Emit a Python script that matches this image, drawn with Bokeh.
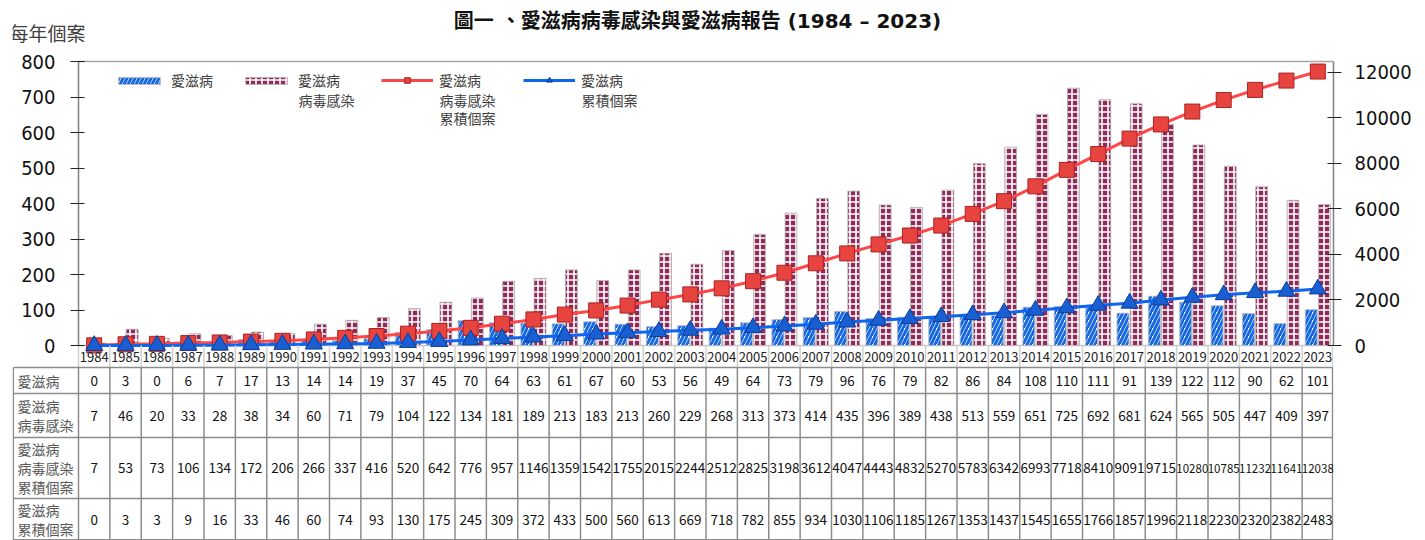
from bokeh.plotting import figure
from bokeh.models import (Range1d, LinearAxis, ColumnDataSource, Legend, LegendItem,
                          FixedTicker)
from bokeh.embed import file_html
from bokeh.resources import INLINE
from bokeh.core.properties import value
from bokeh.transform import dodge

# ---------------- data ----------------
years = [1984, 1985, 1986, 1987, 1988, 1989, 1990, 1991, 1992, 1993,
         1994, 1995, 1996, 1997, 1998, 1999, 2000, 2001, 2002, 2003,
         2004, 2005, 2006, 2007, 2008, 2009, 2010, 2011, 2012, 2013,
         2014, 2015, 2016, 2017, 2018, 2019, 2020, 2021, 2022, 2023]
aids = [0, 3, 0, 6, 7, 17, 13, 14, 14, 19,
        37, 45, 70, 64, 63, 61, 67, 60, 53, 56,
        49, 64, 73, 79, 96, 76, 79, 82, 86, 84,
        108, 110, 111, 91, 139, 122, 112, 90, 62, 101]
hiv = [7, 46, 20, 33, 28, 38, 34, 60, 71, 79,
       104, 122, 134, 181, 189, 213, 183, 213, 260, 229,
       268, 313, 373, 414, 435, 396, 389, 438, 513, 559,
       651, 725, 692, 681, 624, 565, 505, 447, 409, 397]
hiv_cum = [7, 53, 73, 106, 134, 172, 206, 266, 337, 416,
           520, 642, 776, 957, 1146, 1359, 1542, 1755, 2015, 2244,
           2512, 2825, 3198, 3612, 4047, 4443, 4832, 5270, 5783, 6342,
           6993, 7718, 8410, 9091, 9715, 10280, 10785, 11232, 11641, 12038]
aids_cum = [0, 3, 3, 9, 16, 33, 46, 60, 74, 93,
            130, 175, 245, 309, 372, 433, 500, 560, 613, 669,
            718, 782, 855, 934, 1030, 1106, 1185, 1267, 1353, 1437,
            1545, 1655, 1766, 1857, 1996, 2118, 2230, 2320, 2382, 2483]
left_ticks = [0, 100, 200, 300, 400, 500, 600, 700, 800]
right_ticks = [0, 2000, 4000, 6000, 8000, 10000, 12000]
left_max = 800
right_max = 12480
series_names = ["愛滋病", "愛滋病\n病毒感染", "愛滋病\n病毒感染\n累積個案", "愛滋病\n累積個案"]
title_text = "圖一 、愛滋病病毒感染與愛滋病報告 (1984 – 2023)"
left_title = "每年個案"
right_title = "累積個案"

# ---------------- layout constants (page pixels) ----------------
N = len(years)
W, H = 1425, 540
FRAME_L = 78.0            # chart area left
FRAME_R = 1333.0          # chart area right
TOP, BASE = 61.0, 345.0   # chart area top / zero line
TABLE_L = 12.0
ROWS = [345, 367, 393, 437, 498, 540]
PXU = (FRAME_R - FRAME_L) / N
CJK_S = "Noto Sans CJK TC"
CJK = value(CJK_S)
NUMF = value("Noto Sans CJK TC")
TICKF = "DejaVu Sans Condensed"


def fx(px):
    return (px - FRAME_L) / PXU - 0.5


def fy(py):
    return (BASE - py) * left_max / (BASE - TOP)


def fsize(v):
    return "11.5px" if len(str(v)) >= 5 else "13.5px"


scale_r = right_max / left_max

src = ColumnDataSource(dict(x=list(range(N)), aids=aids, hiv=hiv, hiv_cum=hiv_cum,
                            aids_cum=aids_cum, year=[str(y) for y in years],
                            t_aids=[str(v) for v in aids], t_hiv=[str(v) for v in hiv],
                            t_hcum=[str(v) for v in hiv_cum],
                            t_acum=[str(v) for v in aids_cum],
                            s_aids=[fsize(v) for v in aids], s_hiv=[fsize(v) for v in hiv],
                            s_hcum=[fsize(v) for v in hiv_cum],
                            s_acum=[fsize(v) for v in aids_cum]))

p = figure(frame_width=int(FRAME_R - TABLE_L), frame_height=H,
           x_range=Range1d(fx(TABLE_L), N - 0.5), y_range=Range1d(fy(H), fy(0)),
           x_axis_location=None, toolbar_location=None, output_backend="svg",
           min_border_left=int(TABLE_L), min_border_right=int(W - FRAME_R),
           min_border_top=0, min_border_bottom=0)
p.extra_y_ranges = {"cum": Range1d(fy(H) * scale_r, fy(0) * scale_r)}
p.xgrid.visible = False
p.ygrid.visible = False
p.outline_line_color = None
p.background_fill_color = "white"
p.border_fill_color = "white"

laxis = p.yaxis[0]
laxis.ticker = FixedTicker(ticks=left_ticks)
laxis.fixed_location = -0.5
laxis.bounds = (0, left_max)
raxis = LinearAxis(y_range_name="cum", ticker=FixedTicker(ticks=right_ticks),
                   bounds=(0, right_max))
p.add_layout(raxis, "right")
for ax in (laxis, raxis):
    ax.major_tick_in = 6
    ax.major_tick_out = 8
    ax.minor_tick_line_color = None
    ax.axis_line_color = "#7f7f7f"
    ax.axis_line_width = 1.5
    ax.major_tick_line_color = "#222222"
    ax.major_tick_line_width = 1.2
    ax.major_label_text_font = TICKF
    ax.major_label_text_font_size = "20px"
    ax.major_label_text_color = "#111111"
laxis.major_label_standoff = 15
raxis.major_label_standoff = 13

# chart frame top line and zero line
p.segment(x0=[-0.5, -0.5], y0=[fy(TOP), 0], x1=[N - 0.5, N - 0.5], y1=[fy(TOP), 0],
          line_color=["#a6a6a6", "#c8c8c8"], line_width=1.5)

b1 = p.vbar(x=dodge("x", -0.21, range=p.x_range), top="aids", width=0.38, source=src,
            fill_color="white", hatch_pattern="/", hatch_color="#1668e0",
            hatch_scale=8, hatch_weight=3, line_color="#b8b8b8", line_width=0.8)
b2 = p.vbar(x=dodge("x", 0.21, range=p.x_range), top="hiv", width=0.38, source=src,
            fill_color="#8d2b5b", hatch_pattern="+", hatch_color="white",
            hatch_scale=6, hatch_weight=1.6, line_color="#b8b8b8", line_width=0.8)
l1 = p.line("x", "hiv_cum", source=src, y_range_name="cum", line_color="#ff4545", line_width=3)
m1 = p.scatter("x", "hiv_cum", source=src, y_range_name="cum", marker="square", size=15,
               fill_color="#e8443f", line_color="#a82222", line_width=1)
l2 = p.line("x", "aids_cum", source=src, y_range_name="cum", line_color="#0d66f0", line_width=3)
m2 = p.scatter("x", "aids_cum", source=src, y_range_name="cum", marker="triangle", size=17,
               fill_color="#1a5fd2", line_color="#0a3c96", line_width=1)

# legends: one per series, first line as legend label, remaining lines below
first_lines = [s.split("\n")[0] for s in series_names]
rest_lines = ["\n".join(s.split("\n")[1:]) for s in series_names]
leg_x = [113, 240, 381, 523]
leg_rend = [[b1], [b2], [l1, m1], [l2, m2]]
leg_gh = [9, 9, 14, 14]
for i in range(4):
    lg = Legend(items=[LegendItem(label=first_lines[i], renderers=leg_rend[i])],
                location=(leg_x[i] - TABLE_L, H - 70 - 20), padding=0, spacing=0,
                glyph_width=52, glyph_height=leg_gh[i], label_standoff=6,
                label_height=20, label_text_font=CJK_S, label_text_font_size="14px",
                label_text_color="#404040", background_fill_alpha=0,
                border_line_alpha=0, margin=0)
    p.add_layout(lg, "center")
rx = [fx(leg_x[i] + 58) for i in range(4) if rest_lines[i]]
rt = [rest_lines[i] for i in range(4) if rest_lines[i]]
p.text(x=rx, y=[fy(89)] * len(rx), text=rt, text_align="left", text_baseline="top",
       text_font=CJK, text_font_size="14px", text_color="#404040", text_line_height=0.93)

# titles
p.text(x=[fx(697)], y=[fy(20)], text=[title_text], text_align="center",
       text_baseline="middle", text_font=value("DejaVu Sans, Noto Sans CJK TC"),
       text_font_style="bold", text_font_size="20px", text_color="#111111")
p.text(x=[fx(9), fx(1408)], y=[fy(32), fy(32)], text=[left_title, right_title],
       text_align=["left", "right"], text_baseline="middle", text_font=CJK,
       text_font_size="19px", text_color="#404040")

# ---------------- data table ----------------
xl = fx(TABLE_L + 0.8)
xr = N - 0.5 - 0.03
bounds = [i - 0.5 for i in range(N)] + [xr]
p.segment(x0=bounds, y0=[fy(ROWS[0])] * len(bounds), x1=bounds, y1=[fy(ROWS[1])] * len(bounds),
          line_color="#d0d0d0", line_width=1.5)
p.segment(x0=bounds + [xl], y0=[fy(ROWS[1])] * (len(bounds) + 1), x1=bounds + [xl],
          y1=[fy(ROWS[-1])] * (len(bounds) + 1), line_color="#8c8c8c", line_width=1.5)
hy = [fy(r) for r in ROWS[1:-1]] + [fy(ROWS[-1] - 0.8)]
p.segment(x0=[xl] * len(hy), y0=hy, x1=[xr] * len(hy), y1=hy,
          line_color="#8c8c8c", line_width=1.5)

centers = [fy((ROWS[i] + ROWS[i + 1]) / 2) for i in range(len(ROWS) - 1)]
p.text("x", centers[0], text="year", source=src, text_align="center",
       text_baseline="middle", text_font=NUMF, text_font_size="13px", text_color="#222222")
for col, cy in zip(["aids", "hiv", "hcum", "acum"], centers[1:]):
    p.text("x", cy, text="t_" + col, source=src, text_align="center", text_baseline="middle",
           text_font=NUMF, text_font_size="s_" + col, text_color="#111111")
p.text(x=[fx(TABLE_L + 5)] * 4, y=centers[1:], text=series_names, text_align="left",
       text_baseline="middle", text_font=CJK, text_font_size="14px",
       text_color="#595959", text_line_height=0.93)

open("out.html", "w").write(file_html(p, INLINE))
